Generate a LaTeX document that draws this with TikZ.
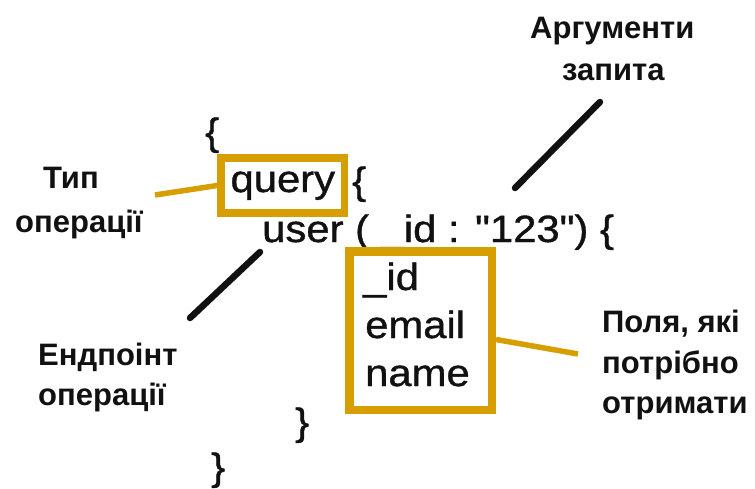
\documentclass[tikz,border=0pt]{standalone}
\usepackage{fontspec}
\setmainfont{Liberation Sans}
\newfontfamily\codefont[FakeStretch=1.1,FakeBold=1]{Liberation Sans}
\definecolor{gold}{RGB}{214,158,0}
\definecolor{inkc}{RGB}{17,17,17}
\tikzset{
  code/.style={font={\codefont\fontsize{38}{46}\selectfont}, inner sep=0pt, anchor=base west, text=inkc},
  lbl/.style={font={\fontsize{31}{38}\selectfont\bfseries}, inner sep=0pt, anchor=base west, text=inkc},
  goldbox/.style={draw=gold, inner sep=0pt},
  goldline/.style={draw=gold, line width=5.5pt},
  pointer/.style={draw=inkc, line width=6.5pt, line cap=round}
}
\begin{document}
\begin{tikzpicture}[x=1pt, y=-1pt]
\useasboundingbox (0,0) rectangle (755,488);

% query code
\node[code] (open1) at (205,145) {\{};
\node[goldbox, line width=7.5pt, minimum width=123.6pt, minimum height=55pt,
      text height=20pt, text depth=7pt, font={\codefont\fontsize{38}{46}\selectfont}, text=inkc]
      (qbox) at (282.8,185.5) {query};
\node[code] (open2) at (352,194) {\{};
\node[code] (userln) at (262,242) {user ( \_id : "123") \{};
\node[code] (fid) at (363,290) {\_id};
\node[code] (femail) at (365,338) {email};
\node[code] (fname) at (365,386) {name};
\node[goldbox, line width=8.5pt, minimum width=142.5pt, minimum height=158.5pt]
      (fbox) at (420.5,330.5) {};
\node[code] (close2) at (295,435) {\}};
\node[code] (close1) at (211,480) {\}};

% labels
\node[lbl] (typeA) at (43,188) {Тип};
\node[lbl] (typeB) at (15,232) {операції};
\node[lbl] (endA) at (38,365) {Ендпоінт};
\node[lbl] (endB) at (38,405) {операції};
\node[lbl] (argA) at (530,38) {Аргументи};
\node[lbl] (argB) at (562,80) {запита};
\node[lbl] (fldA) at (602,332) {Поля, які};
\node[lbl] (fldB) at (602,373) {потрібно};
\node[lbl] (fldC) at (602,413) {отримати};

% connectors
\coordinate (typeEnd) at (155,195);
\draw[goldline] (typeEnd) -- (qbox.west);
\coordinate (fldEnd) at (578,354);
\draw[goldline] ([yshift=-9pt]fbox.east) -- (fldEnd);
\coordinate (endTop) at (260,252);
\coordinate (endBot) at (190,318);
\draw[pointer] (endTop) -- (endBot);
\coordinate (argTop) at (600,102);
\coordinate (argBot) at (515,188);
\draw[pointer] (argTop) -- (argBot);
\end{tikzpicture}
\end{document}
